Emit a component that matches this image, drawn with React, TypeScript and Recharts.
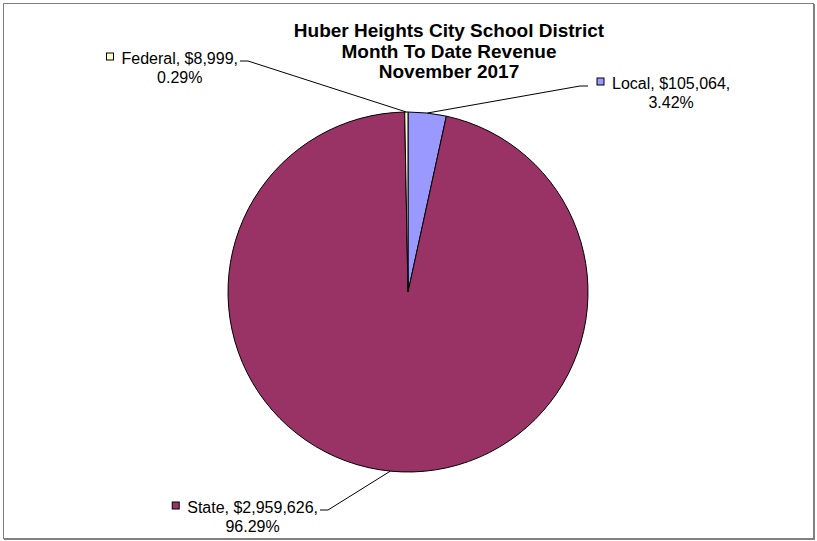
import React from "react";
import { PieChart, Pie, Cell } from "recharts";

const categories = ["Local", "State", "Federal"];
const revenue = [105064, 2959626, 8999];
const sliceColors = ["#9999FF", "#993366", "#FFFFCC"];
const titleLines = [
  "Huber Heights City School District",
  "Month To Date Revenue",
  "November 2017",
];

const data = categories.map((name, i) => ({ name, value: revenue[i] }));
const total = revenue.reduce((a, b) => a + b, 0);

// where each leader line bends, measured from the pie centre
const elbows: Record<string, { dx: number; dy: number; side: "left" | "right" }> = {
  Local: { dx: 172, dy: -206, side: "right" },
  Federal: { dx: -160, dy: -231, side: "left" },
  State: { dx: -80, dy: 218, side: "left" },
};

const LABEL_FONT = "16px 'Liberation Sans', Arial, sans-serif";
let ctx: CanvasRenderingContext2D | null = null;
function textWidth(s: string) {
  if (!ctx) ctx = document.createElement("canvas").getContext("2d");
  if (!ctx) return s.length * 8.5;
  ctx.font = LABEL_FONT;
  return ctx.measureText(s).width;
}

function SliceLabel(props: any) {
  const { cx, cy, midAngle, outerRadius } = props;
  const name = props.name ?? props.payload?.name;
  const value = props.value ?? props.payload?.value;
  const RAD = Math.PI / 180;
  const sx = cx + outerRadius * Math.cos(-midAngle * RAD);
  const sy = cy + outerRadius * Math.sin(-midAngle * RAD);
  const e = elbows[name];
  const ex = cx + e.dx;
  const ey = cy + e.dy;
  const tx = e.side === "right" ? ex + 8 : ex - 8;
  const line1 = `${name}, $${value.toLocaleString("en-US")},`;
  const line2 = `${((value / total) * 100).toFixed(2)}%`;
  const w = textWidth(line1);
  const textStart = e.side === "right" ? tx + 24 : tx - 2 - w;
  const center = textStart + w / 2;
  const baseline = ey + 3;
  const color = sliceColors[categories.indexOf(name)];
  return (
    <g>
      <polyline
        points={`${sx},${sy} ${ex},${ey} ${tx},${ey}`}
        fill="none"
        stroke="#000"
        strokeWidth={1}
      />
      <rect
        x={textStart - 15}
        y={baseline - 11}
        width={7}
        height={7}
        fill={color}
        stroke="#000"
        strokeWidth={1}
      />
      <text x={center} y={baseline} textAnchor="middle" fill="#000" style={{ font: LABEL_FONT }}>
        {line1}
      </text>
      <text x={center} y={baseline + 18.5} textAnchor="middle" fill="#000" style={{ font: LABEL_FONT }}>
        {line2}
      </text>
    </g>
  );
}

export default function App() {
  return (
    <div
      style={{
        position: "absolute",
        left: 0,
        top: 0,
        width: 817,
        height: 541,
        background: "#fff",
      }}
    >
      <PieChart width={817} height={541} margin={{ top: 0, right: 0, bottom: 0, left: 0 }}>
        <Pie
          data={data}
          dataKey="value"
          nameKey="name"
          cx={408}
          cy={292}
          outerRadius={180}
          startAngle={90}
          endAngle={-270}
          stroke="#000"
          strokeWidth={1}
          label={SliceLabel}
          labelLine={false}
          isAnimationActive={false}
        >
          {data.map((d, i) => (
            <Cell key={d.name} fill={sliceColors[i]} />
          ))}
        </Pie>
      </PieChart>
      <svg
        width={817}
        height={541}
        style={{ position: "absolute", left: 0, top: 0, pointerEvents: "none" }}
      >
        <rect x={3.5} y={3.5} width={810} height={535} fill="none" stroke="#808080" strokeWidth={1} />
        <line x1={814.5} y1={4} x2={814.5} y2={540} stroke="#808080" strokeWidth={1} />
        <line x1={4} y1={539.5} x2={815} y2={539.5} stroke="#808080" strokeWidth={1} />
        {titleLines.map((t, i) => (
          <text
            key={t}
            x={449}
            y={37 + i * 20.5}
            textAnchor="middle"
            fill="#000"
            style={{ font: "bold 19px 'Liberation Sans', Arial, sans-serif" }}
          >
            {t}
          </text>
        ))}
      </svg>
    </div>
  );
}
